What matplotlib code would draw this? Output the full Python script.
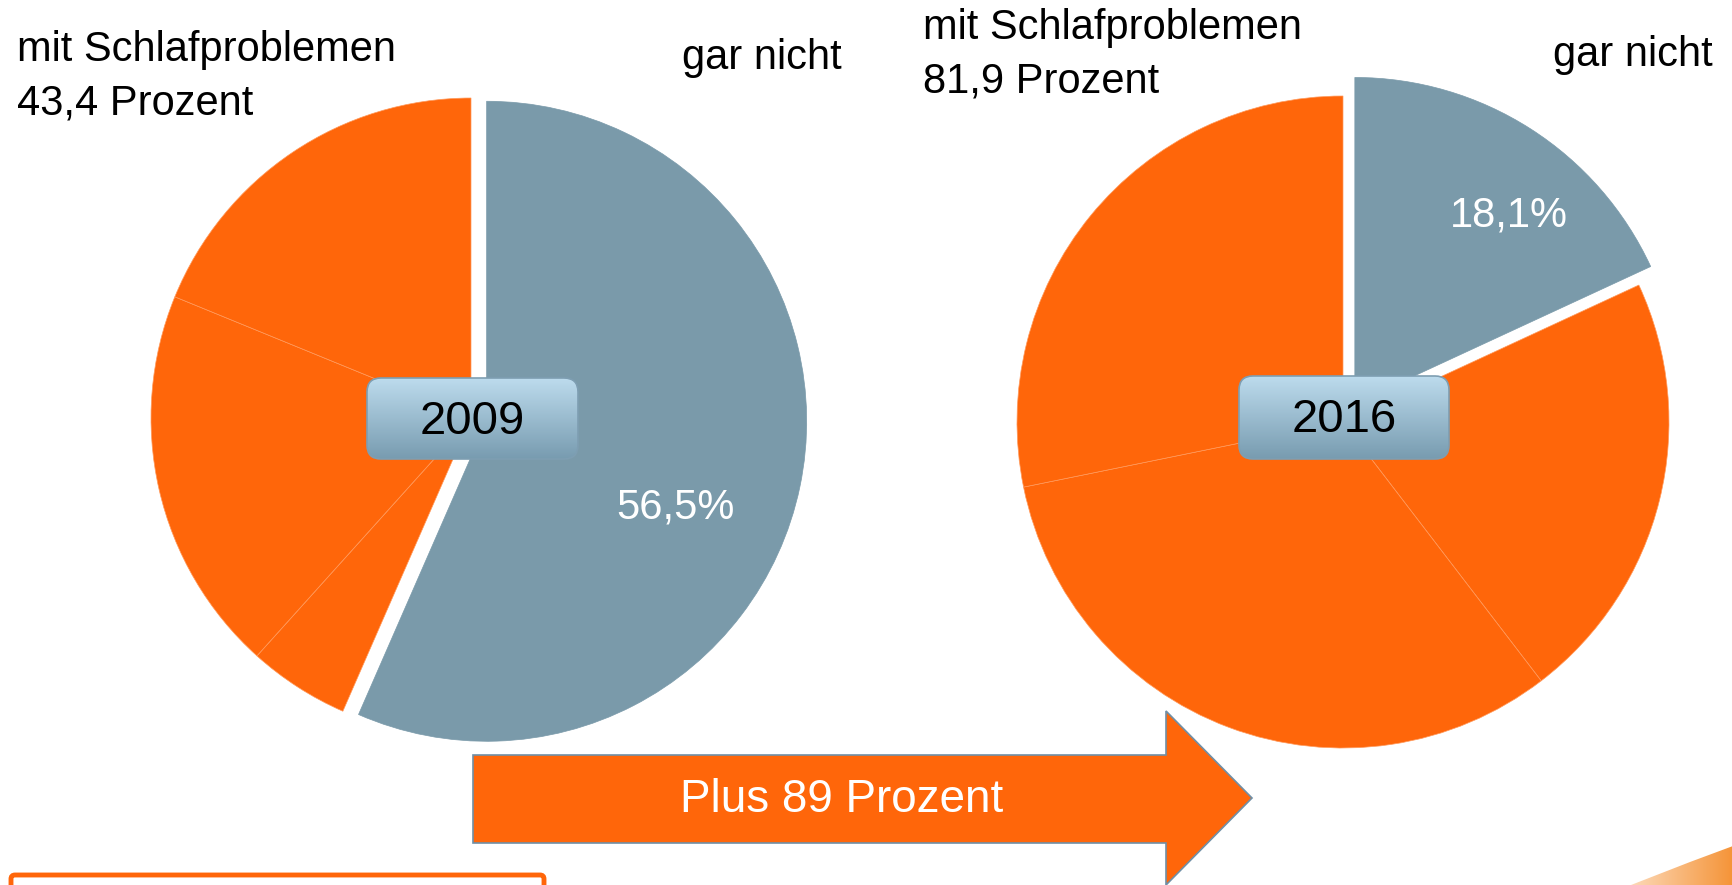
import matplotlib.pyplot as plt
import numpy as np
from matplotlib.patches import Polygon, FancyBboxPatch

# data
shares_2009 = [56.5, 5.1, 19.5, 18.8]   # gar nicht, then the three sleep-problem groups (clockwise)
shares_2016 = [18.1, 21.5, 32.2, 28.2]
years = ['2009', '2016']
totals_problem = ['43,4', '81,9']
label_problem = 'mit Schlafproblemen'
label_none = 'gar nicht'
change_label = 'Plus 89 Prozent'

ORANGE = '#FF660A'
GREY = '#7A9AAA'
W, H = 1733, 885

plt.rcParams['font.family'] = ['Liberation Sans', 'DejaVu Sans']

fig = plt.figure(figsize=(W / 100, H / 100), dpi=100)
ax = fig.add_axes([0, 0, 1, 1])


def pie_at(values, cx, cy, r, expl):
    # explode is in data units (pixels here)
    cols = [GREY] + [ORANGE] * (len(values) - 1)
    wedges, _ = ax.pie(values, colors=cols, startangle=90, counterclock=False,
                       center=(cx, H - cy), radius=r, explode=[expl] + [0] * (len(values) - 1),
                       wedgeprops=dict(edgecolor='#FF9A5C', linewidth=0.5), frame=True)
    wedges[0].set_edgecolor(GREY)


pie_at(shares_2009, 471, 418, 320, 16)
pie_at(shares_2016, 1343, 422, 326, 22)


def fmt(v):
    return f'{v:.1f}%'.replace('.', ',')


ax.text(675, H - 508, fmt(shares_2009[0]), color='white', fontsize=30, ha='center', va='center')
ax.text(1509, H - 216, fmt(shares_2016[0]), color='white', fontsize=30, ha='center', va='center')

# labels above the pies
ax.text(17, H - 61, label_problem, fontsize=30, ha='left', va='baseline')
ax.text(17, H - 115, totals_problem[0] + ' Prozent', fontsize=30, ha='left', va='baseline')
ax.text(682, H - 69, label_none, fontsize=30, ha='left', va='baseline')
ax.text(923, H - 39, label_problem, fontsize=30, ha='left', va='baseline')
ax.text(923, H - 93, totals_problem[1] + ' Prozent', fontsize=30, ha='left', va='baseline')
ax.text(1553, H - 66, label_none, fontsize=30, ha='left', va='baseline')

# year boxes with a vertical gradient
grad = np.linspace(0, 1, 100).reshape(-1, 1)
top_c = np.array([0.74, 0.86, 0.93])
bot_c = np.array([0.47, 0.61, 0.69])
img = (top_c * (1 - grad) + bot_c * grad)[:, None, :].repeat(2, axis=1)
for yr, (x0, x1, y0, y1) in zip(years, [(367, 578, 378, 459), (1239, 1449, 376, 459)]):
    box = FancyBboxPatch((x0, H - y1), x1 - x0, y1 - y0,
                         boxstyle='round,pad=0,rounding_size=14',
                         facecolor='none', edgecolor='#7E9EB2', linewidth=1.2, zorder=6)
    ax.add_patch(box)
    im = ax.imshow(img, extent=(x0, x1, H - y1, H - y0), aspect='auto', zorder=5, origin='upper')
    im.set_clip_path(box)
    ax.text((x0 + x1) / 2, H - (y0 + y1) / 2 - 3, yr, fontsize=34, ha='center', va='center', zorder=7)

# arrow
arrow = [(473, 755), (1166, 755), (1166, 711), (1252, 798), (1166, 885), (1166, 843), (473, 843)]
ax.add_patch(Polygon([(x, H - y) for x, y in arrow], closed=True, facecolor=ORANGE,
                     edgecolor='#6F8FA6', linewidth=1.2, zorder=4))
ax.text(842, H - 800, change_label, color='white', fontsize=33, ha='center', va='center', zorder=5)

# orange frame at the bottom left (cut off)
ax.add_patch(FancyBboxPatch((11, H - 905), 533, 30, boxstyle='round,pad=0,rounding_size=4',
                            facecolor='none', edgecolor=ORANGE, linewidth=3.5, zorder=4))

# swoosh at bottom right
sw = Polygon([(1631, 0), (1690, H - 862), (1733, H - 846), (1733, 0)], closed=True,
             facecolor='none', edgecolor='none')
ax.add_patch(sw)
hg = np.linspace(0, 1, 100).reshape(1, -1)
c0 = np.array([0.99, 0.85, 0.72])
c1 = np.array([0.96, 0.58, 0.22])
simg = (c0 * (1 - hg[..., None]) + c1 * hg[..., None]).repeat(2, axis=0)
sim = ax.imshow(simg, extent=(1631, 1733, 0, H - 846), aspect='auto', zorder=3)
sim.set_clip_path(sw)

ax.set_xlim(0, W)
ax.set_ylim(0, H)
ax.set_aspect('auto')
ax.axis('off')

fig.savefig('out.png', dpi=100)
